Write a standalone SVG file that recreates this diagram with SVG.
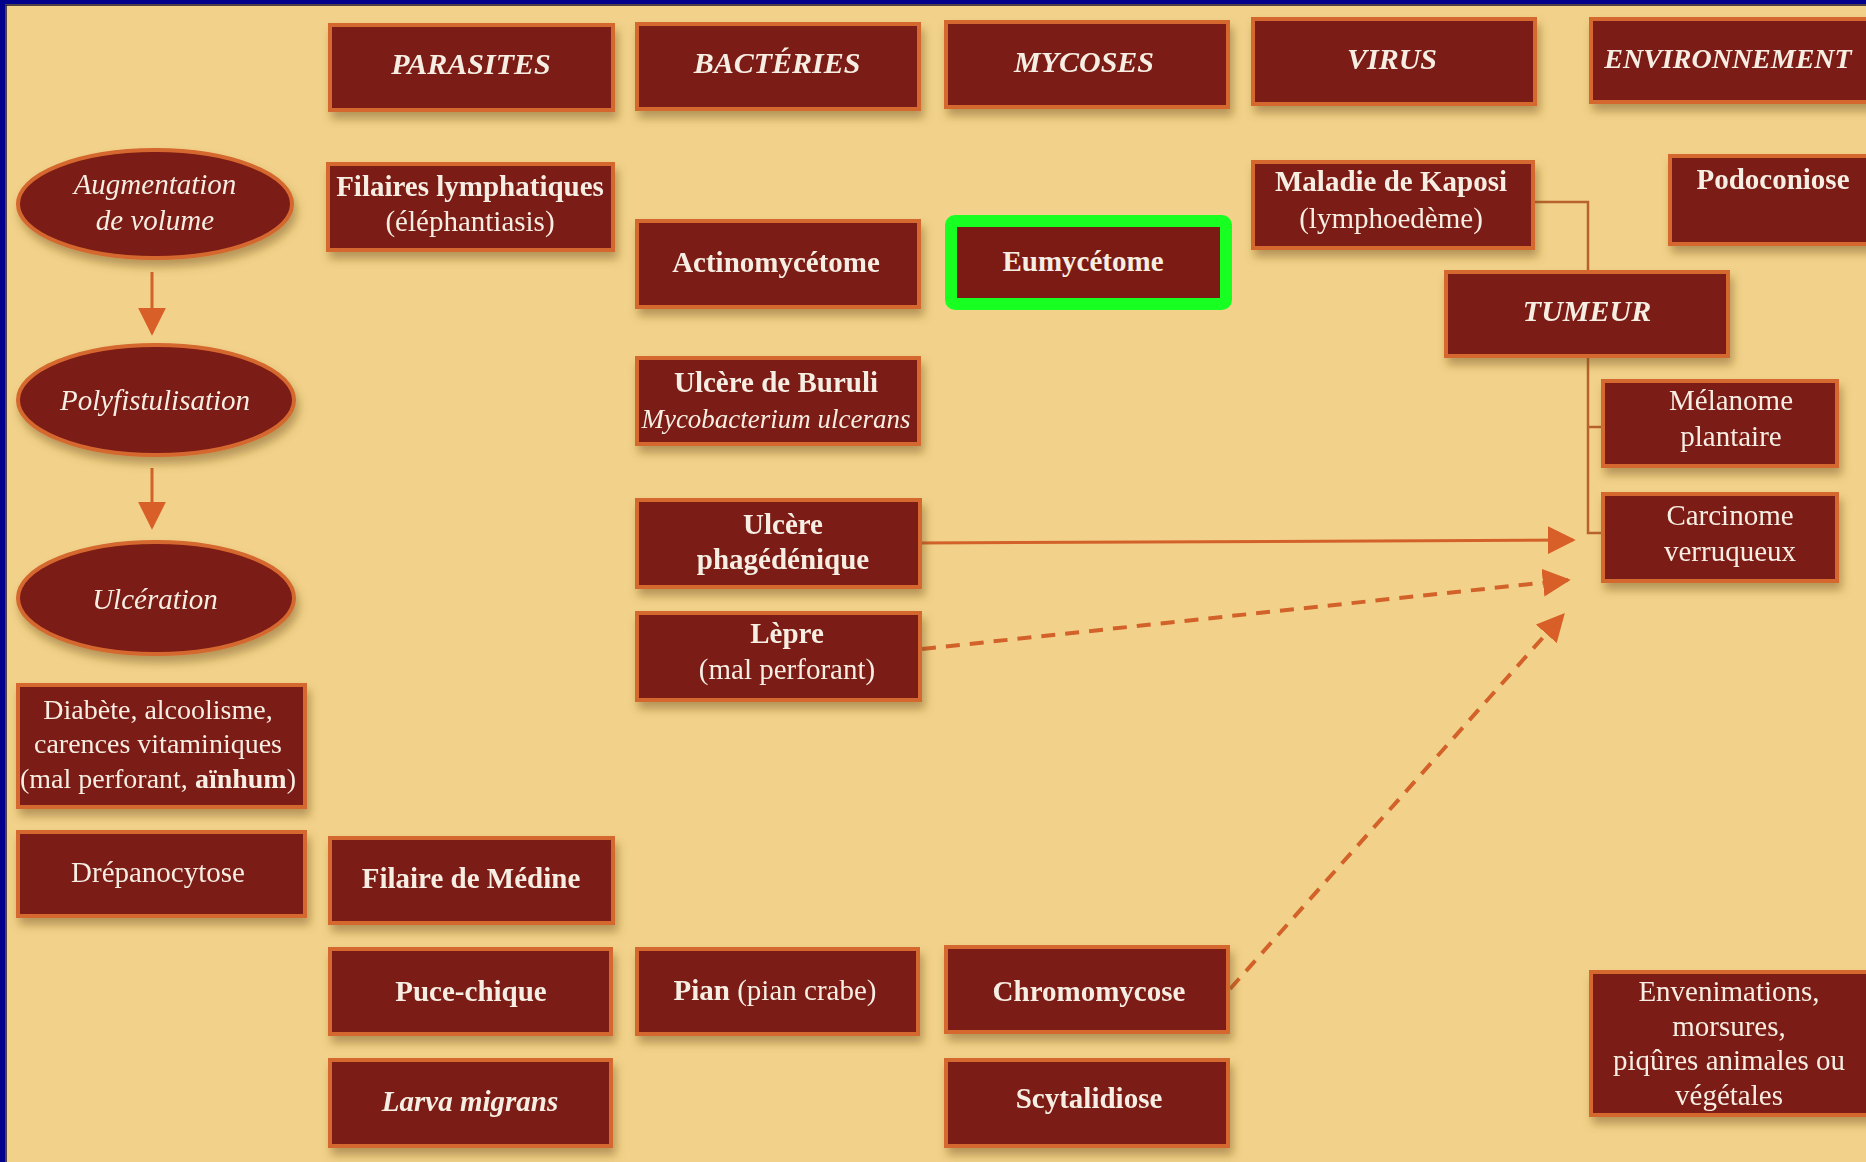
<svg xmlns="http://www.w3.org/2000/svg" width="1866" height="1162" viewBox="0 0 1866 1162">
<defs>
<style>
.box{fill:#7C1A14;stroke:#D5672E;stroke-width:4}
.ell{fill:#7C1A14;stroke:#D5672E;stroke-width:4}
.t{font-family:"Liberation Serif","Times New Roman",serif;fill:#F6EEE2;text-anchor:middle;font-size:29px}
.b{font-weight:bold}
.i{font-style:italic}
.h{font-weight:bold;font-style:italic;font-size:30px}
.ln{fill:none;stroke:#D2622A;stroke-width:3}
.dash{fill:none;stroke:#D2622A;stroke-width:4;stroke-dasharray:14 10}
.tree{fill:none;stroke:#B8622E;stroke-width:2.5}
</style>
<filter id="sh" x="-10%" y="-10%" width="130%" height="140%">
<feDropShadow dx="3" dy="7" stdDeviation="5" flood-color="#6B4A1A" flood-opacity="0.45"/>
</filter>
<marker id="ah" viewBox="0 0 10 10" refX="9" refY="5" markerUnits="userSpaceOnUse" markerWidth="28" markerHeight="28" orient="auto">
<path d="M0,0 L10,5 L0,10 Z" fill="#D95F28"/>
</marker>
</defs>
<rect x="0" y="0" width="1866" height="1162" fill="#F2D28A"/>
<rect x="0" y="0" width="1866" height="4" fill="#00008C"/>
<rect x="0" y="0" width="5" height="1162" fill="#00008C"/>
<line x1="5" y1="5" x2="1866" y2="5" stroke="#1a1030" stroke-width="1.5"/>
<line x1="6" y1="5" x2="6" y2="1162" stroke="#1a1030" stroke-width="1.5"/>

<g id="connectors">
<line class="ln" x1="152" y1="272" x2="152" y2="333" marker-end="url(#ah)"/>
<line class="ln" x1="152" y1="468" x2="152" y2="527" marker-end="url(#ah)"/>
<polyline class="tree" points="1533,202 1588,202 1588,271"/>
<polyline class="tree" points="1588,356 1588,533 1603,533"/>
<line class="tree" x1="1588" y1="427" x2="1603" y2="427"/>
<line class="ln" x1="920" y1="543" x2="1573" y2="540" marker-end="url(#ah)"/>
<line class="dash" x1="922" y1="649" x2="1568" y2="580" marker-end="url(#ah)"/>
<line class="dash" x1="1230" y1="989" x2="1563" y2="615" marker-end="url(#ah)"/>
</g>

<g id="n-parasites" filter="url(#sh)"><rect class="box" x="330" y="25" width="283" height="85"/><text class="t h" x="471" y="74">PARASITES</text></g>
<g id="n-bacteries" filter="url(#sh)"><rect class="box" x="637" y="24" width="282" height="85"/><text class="t h" x="777" y="73">BACTÉRIES</text></g>
<g id="n-mycoses" filter="url(#sh)"><rect class="box" x="946" y="22" width="282" height="85"/><text class="t h" x="1084" y="72">MYCOSES</text></g>
<g id="n-virus" filter="url(#sh)"><rect class="box" x="1253" y="19" width="282" height="85"/><text class="t h" x="1392" y="69">VIRUS</text></g>
<g id="n-environnement" filter="url(#sh)"><rect class="box" x="1591" y="19" width="285" height="83"/><text class="t h" x="1728" y="68" style="font-size:28px">ENVIRONNEMENT</text></g>

<g id="n-augmentation" filter="url(#sh)"><ellipse class="ell" cx="155" cy="204" rx="137" ry="54"/><text class="t i" x="155" y="194">Augmentation</text><text class="t i" x="155" y="230">de volume</text></g>
<g id="n-polyfistulisation" filter="url(#sh)"><ellipse class="ell" cx="156" cy="400" rx="138" ry="55"/><text class="t i" x="155" y="410">Polyfistulisation</text></g>
<g id="n-ulceration" filter="url(#sh)"><ellipse class="ell" cx="156" cy="598" rx="138" ry="56"/><text class="t i" x="155" y="609">Ulcération</text></g>

<g id="n-filaires" filter="url(#sh)"><rect class="box" x="328" y="164" width="285" height="86"/><text class="t b" x="470" y="196">Filaires lymphatiques</text><text class="t" x="470" y="231">(éléphantiasis)</text></g>
<g id="n-actinomycetome" filter="url(#sh)"><rect class="box" x="637" y="221" width="282" height="86"/><text class="t b" x="776" y="272">Actinomycétome</text></g>
<g id="n-eumycetome"><rect x="951" y="221" width="275" height="83" rx="4" fill="none" stroke="#18FF22" stroke-width="12"/><rect x="957" y="227" width="263" height="71" fill="#7C1A14"/><text class="t b" x="1083" y="271">Eumycétome</text></g>
<g id="n-kaposi" filter="url(#sh)"><rect class="box" x="1253" y="162" width="280" height="86"/><text class="t b" x="1391" y="191">Maladie de Kaposi</text><text class="t" x="1391" y="228">(lymphoedème)</text></g>
<g id="n-podoconiose" filter="url(#sh)"><rect class="box" x="1670" y="156" width="206" height="88"/><text class="t b" x="1773" y="189">Podoconiose</text></g>
<g id="n-tumeur" filter="url(#sh)"><rect class="box" x="1446" y="272" width="282" height="84"/><text class="t h" x="1587" y="321">TUMEUR</text></g>
<g id="n-buruli" filter="url(#sh)"><rect class="box" x="637" y="358" width="282" height="86"/><text class="t b" x="776" y="392">Ulcère de Buruli</text><text class="t i" x="776" y="428" style="font-size:27px">Mycobacterium ulcerans</text></g>
<g id="n-melanome" filter="url(#sh)"><rect class="box" x="1603" y="381" width="234" height="85"/><text class="t" x="1731" y="410">Mélanome</text><text class="t" x="1731" y="446">plantaire</text></g>
<g id="n-phagedenique" filter="url(#sh)"><rect class="box" x="637" y="500" width="283" height="87"/><text class="t b" x="783" y="534">Ulcère</text><text class="t b" x="783" y="569">phagédénique</text></g>
<g id="n-carcinome" filter="url(#sh)"><rect class="box" x="1603" y="494" width="234" height="87"/><text class="t" x="1730" y="525">Carcinome</text><text class="t" x="1730" y="561">verruqueux</text></g>
<g id="n-lepre" filter="url(#sh)"><rect class="box" x="637" y="613" width="283" height="87"/><text class="t b" x="787" y="643">Lèpre</text><text class="t" x="787" y="679">(mal perforant)</text></g>
<g id="n-diabete" filter="url(#sh)"><rect class="box" x="18" y="685" width="287" height="122"/><text class="t" x="158" y="719" style="font-size:28px">Diabète, alcoolisme,</text><text class="t" x="158" y="753" style="font-size:28px">carences vitaminiques</text><text class="t" x="158" y="788" style="font-size:28px">(mal perforant, <tspan class="b">aïnhum</tspan>)</text></g>
<g id="n-drepanocytose" filter="url(#sh)"><rect class="box" x="18" y="832" width="287" height="84"/><text class="t" x="158" y="882">Drépanocytose</text></g>
<g id="n-medine" filter="url(#sh)"><rect class="box" x="330" y="838" width="283" height="85"/><text class="t b" x="471" y="888">Filaire de Médine</text></g>
<g id="n-puce" filter="url(#sh)"><rect class="box" x="330" y="949" width="281" height="85"/><text class="t b" x="471" y="1001">Puce-chique</text></g>
<g id="n-pian" filter="url(#sh)"><rect class="box" x="637" y="949" width="281" height="85"/><text class="t" x="775" y="1000"><tspan class="b">Pian</tspan> (pian crabe)</text></g>
<g id="n-chromomycose" filter="url(#sh)"><rect class="box" x="946" y="947" width="282" height="85"/><text class="t b" x="1089" y="1001">Chromomycose</text></g>
<g id="n-larva" filter="url(#sh)"><rect class="box" x="330" y="1060" width="281" height="86"/><text class="t b i" x="470" y="1111">Larva migrans</text></g>
<g id="n-scytalidiose" filter="url(#sh)"><rect class="box" x="946" y="1060" width="282" height="86"/><text class="t b" x="1089" y="1108">Scytalidiose</text></g>
<g id="n-envenimations" filter="url(#sh)"><rect class="box" x="1591" y="972" width="285" height="143"/><text class="t" x="1729" y="1001">Envenimations,</text><text class="t" x="1729" y="1036">morsures,</text><text class="t" x="1729" y="1070">piqûres animales ou</text><text class="t" x="1729" y="1105">végétales</text></g>
</svg>
